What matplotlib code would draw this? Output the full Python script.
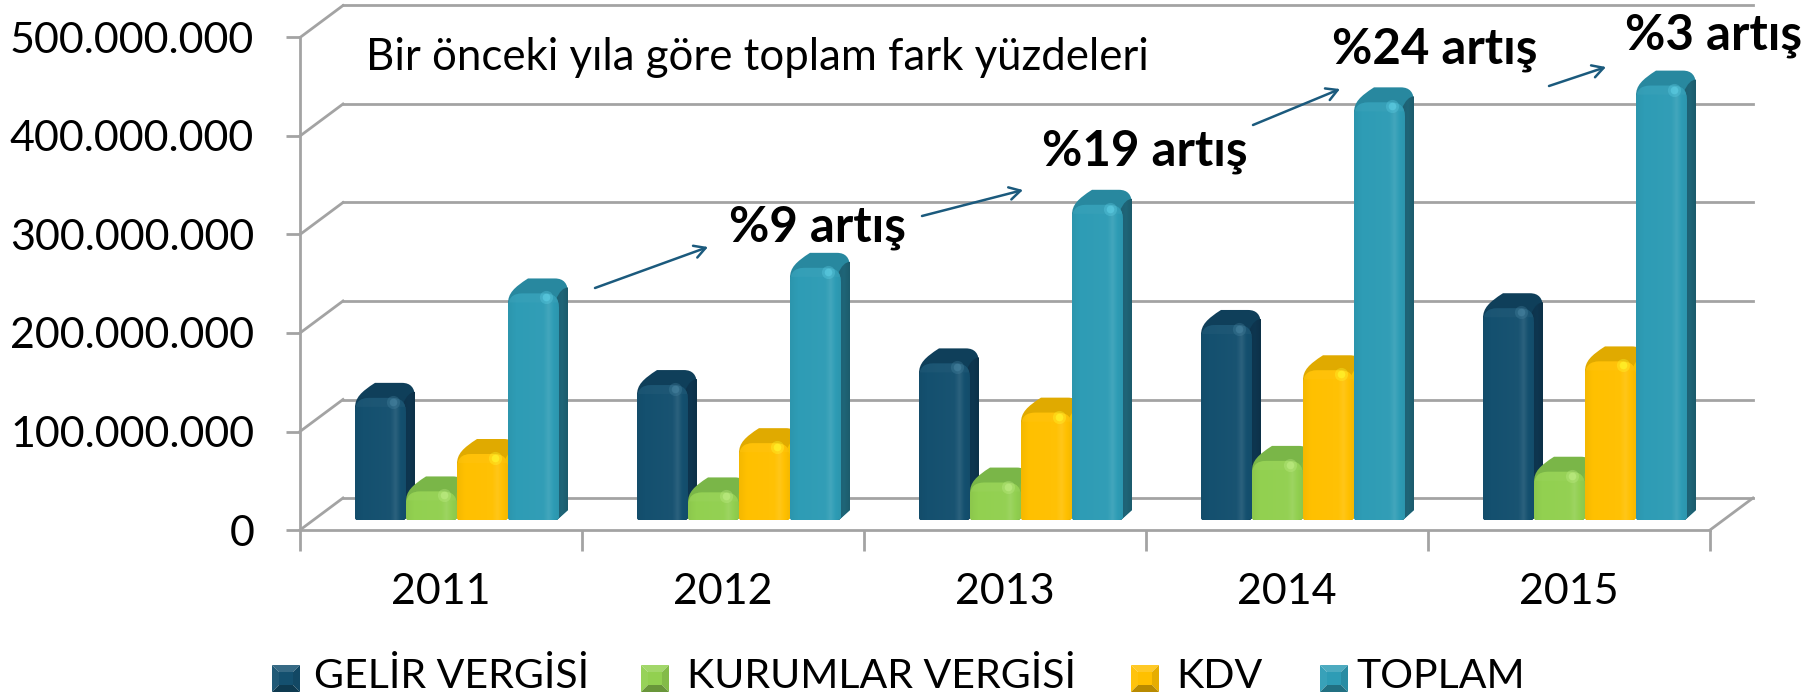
import matplotlib
matplotlib.use('Agg')
from matplotlib import pyplot as plt
from matplotlib.path import Path
from matplotlib.patches import PathPatch, Polygon
from matplotlib.ticker import FuncFormatter
from matplotlib.transforms import ScaledTranslation
from matplotlib.colors import to_rgb
import numpy as np

plt.rcParams['font.family'] = ['Lato', 'DejaVu Sans']

years = ['2011', '2012', '2013', '2014', '2015']
gelir = [124e6, 137e6, 159e6, 198e6, 215e6]
kurumlar = [29e6, 28e6, 38e6, 60e6, 49e6]
kdv = [67e6, 78e6, 109e6, 152e6, 161e6]
toplam = [230e6, 256e6, 320e6, 424e6, 441e6]
series = [gelir, kurumlar, kdv, toplam]
names = ['GELİR VERGİSİ', 'KURUMLAR VERGİSİ', 'KDV', 'TOPLAM']
yticks = [0, 100e6, 200e6, 300e6, 400e6, 500e6]

# face, top, side, highlight
colors = [('#14506f', '#0f3f5a', '#0e3650', '#4a86a3'),
          ('#92d050', '#7ab648', '#85c049', '#c4f08a'),
          ('#ffc000', '#e0aa00', '#ffcb00', '#ffff30'),
          ('#2e9cb5', '#28889f', '#1f6578', '#62d4ea')]
grey = '#a3a3a3'

W, H = 1820, 699
fig = plt.figure(figsize=(W / 100, H / 100), dpi=100)

# main axes = front plane of the 3d box
ax = fig.add_axes([300 / W, 1 - 530 / H, 1410 / W, 492.5 / H])
ax.set_xlim(0, 5)
ax.set_ylim(0, 500e6)
ax.patch.set_alpha(0)
for s in ['top', 'right']:
    ax.spines[s].set_visible(False)
for s in ['left', 'bottom']:
    ax.spines[s].set_color(grey)
    ax.spines[s].set_linewidth(2)
ax.set_yticks(yticks)
ax.yaxis.set_major_formatter(FuncFormatter(lambda v, p: f'{int(v):,}'.replace(',', '.')))
ax.set_xticks(np.arange(6))
ax.set_xticklabels([])
ax.set_xticks(np.arange(5) + 0.5, minor=True)
ax.set_xticklabels(years, minor=True)
ax.tick_params(axis='y', labelsize=31, color=grey, width=2, length=10, pad=23)
ax.tick_params(axis='x', which='major', color=grey, width=2, length=15)
ax.tick_params(axis='x', which='minor', length=0, labelsize=31, pad=31)

# back wall and side diagonals
dx, dy = 43, 32
back = ax.transData + ScaledTranslation(dx / 100, dy / 100, fig.dpi_scale_trans)
for v in yticks:
    ax.plot([0, 5], [v, v], color=grey, lw=2, transform=back, clip_on=False, zorder=1)
    ax.plot([0, dx / 282], [v, v + dy / 0.985e-6], color=grey, lw=2, clip_on=False, zorder=1)
ax.plot([5, 5 + dx / 282], [0, dy / 0.985e-6], color=grey, lw=2, clip_on=False, zorder=1)

# overlay in picture pixels for bars, text and arrows
pix = fig.add_axes([0, 0, 1, 1])
pix.set_xlim(0, W)
pix.set_ylim(H, 0)
pix.axis('off')
pix.patch.set_alpha(0)


def shade(c, f):
    c = np.array(to_rgb(c))
    return np.clip(c * f, 0, 1) if f <= 1 else np.clip(c + (1 - c) * (f - 1), 0, 1)


def gradient_fill(path, col, stops, box):
    # horizontal gradient clipped to a path
    x0, x1, y0, y1 = box
    xs = np.linspace(0, 1, 64)
    img = np.zeros((1, 64, 3))
    for k in range(3):
        img[0, :, k] = np.interp(xs, [s[0] for s in stops], [shade(col, s[1])[k] for s in stops])
    im = pix.imshow(img, extent=(x0, x1, y1, y0), aspect='auto', interpolation='bilinear', zorder=3)
    patch = PathPatch(path, transform=pix.transData, fc='none', ec='none')
    pix.add_patch(patch)
    im.set_clip_path(patch)


def draw_bar(x0, value, cols):
    face, top, side, hi = cols
    base = 520
    f = base - value * 0.985e-6
    w = 51
    body = Path([(x0 + 2, base), (x0, base), (x0, base - 3), (x0, f + 10), (x0, f), (x0 + 6, f - 6),
                 (x0 + 20, f - 15), (x0 + 47, f - 15), (x0 + 60, f - 15), (x0 + 60, f),
                 (x0 + 60, base - 10), (x0 + 49, base), (x0 + 2, base)],
                [1, 3, 3, 2, 4, 4, 4, 2, 3, 3, 2, 2, 2])
    pix.add_patch(PathPatch(body, fc=top, ec='none', zorder=3))
    # side strip
    sd = Path([(x0 + w - 3, f + 6), (x0 + 53, f - 6), (x0 + 60, f - 6), (x0 + 60, f + 4),
               (x0 + 60, base - 10), (x0 + w - 2, base), (x0 + w - 3, f + 6)],
              [1, 3, 3, 2, 2, 2, 2])
    gradient_fill(sd, side, [(0, 0.95), (0.5, 1.0), (1, 0.9)], (x0 + w - 3, x0 + 60, f - 10, base))
    # front face, rounded top
    r = 14
    fr = Path([(x0 + 2, base), (x0, base), (x0, base - 3), (x0, f + r), (x0, f), (x0 + r, f),
               (x0 + w - r, f), (x0 + w, f), (x0 + w, f + r), (x0 + w, base - 3),
               (x0 + w, base), (x0 + w - 5, base), (x0 + 2, base)],
              [1, 3, 3, 2, 3, 3, 2, 3, 3, 2, 3, 3, 2])
    gradient_fill(fr, face, [(0, 0.96), (0.15, 1.0), (0.7, 1.02), (0.8, 1.1), (0.9, 1.0), (1, 0.96)],
                  (x0, x0 + w, f, base))
    # bevel band under the top edge
    band = Path([(x0, f + r), (x0, f), (x0 + r, f), (x0 + w - r, f), (x0 + w, f), (x0 + w, f + r),
                 (x0 + w, f + 9), (x0, f + 9), (x0, f + r)],
                [1, 3, 3, 2, 3, 3, 2, 2, 2])
    pix.add_patch(PathPatch(band, fc=shade(face, 1.08), ec='none', zorder=3.1, alpha=0.4))
    pix.scatter([x0 + 38], [f + 4], s=90, c=[hi], alpha=0.3, lw=0, zorder=3.2)
    pix.scatter([x0 + 38], [f + 4], s=30, c=[hi], alpha=0.5, lw=0, zorder=3.2)


for i in range(len(years)):
    for j, vals in enumerate(series):
        draw_bar(355 + i * 282 + j * 51, vals[i], colors[j])

pix.set_xlim(0, W)
pix.set_ylim(H, 0)

# legend
swatch_x = [272, 641, 1131, 1320]
text_x = [314, 687, 1176, 1356]
for sx, tx, name, c in zip(swatch_x, text_x, names, colors):
    y0, y1, x1, m = 665, 692, sx + 28, 7
    pix.add_patch(Polygon([(sx, y0), (x1, y0), (x1 - m, y0 + m), (sx + m, y0 + m)], fc=shade(c[0], 1.15), ec='none', zorder=4))
    pix.add_patch(Polygon([(sx, y0), (sx, y1), (sx + m, y1 - m), (sx + m, y0 + m)], fc=shade(c[0], 1.05), ec='none', zorder=4))
    pix.add_patch(Polygon([(x1, y0), (x1, y1), (x1 - m, y1 - m), (x1 - m, y0 + m)], fc=shade(c[0], 0.9), ec='none', zorder=4))
    pix.add_patch(Polygon([(sx, y1), (x1, y1), (x1 - m, y1 - m), (sx + m, y1 - m)], fc=shade(c[0], 0.72), ec='none', zorder=4))
    pix.add_patch(Polygon([(sx + m, y0 + m), (x1 - m, y0 + m), (x1 - m, y1 - m), (sx + m, y1 - m)], fc=c[0], ec='none', zorder=4))
    pix.text(tx, 677, name, fontsize=29.5, va='center', ha='left', zorder=5)

# annotations
pix.text(366, 58, 'Bir önceki yıla göre toplam fark yüzdeleri', fontsize=31.5, va='center', ha='left', zorder=5)
labels = [('%9 artış', 729, 228), ('%19 artış', 1042, 151), ('%24 artış', 1332, 50), ('%3 artış', 1625, 36)]
for t, x, y in labels:
    pix.text(x, y, t, fontsize=35.5, fontweight='bold', va='center', ha='left', zorder=5)
arrows = [((595, 288), (708, 247)), ((922, 216), (1023, 190)), ((1253, 125), (1340, 89)), ((1549, 86), (1606, 67))]
for a, b in arrows:
    pix.annotate('', xy=b, xytext=a, zorder=5,
                 arrowprops=dict(arrowstyle='->,head_length=0.8,head_width=0.45', color='#1b5a7d', lw=1.8,
                                 shrinkA=0, shrinkB=0))

fig.savefig('out.png', dpi=100)
